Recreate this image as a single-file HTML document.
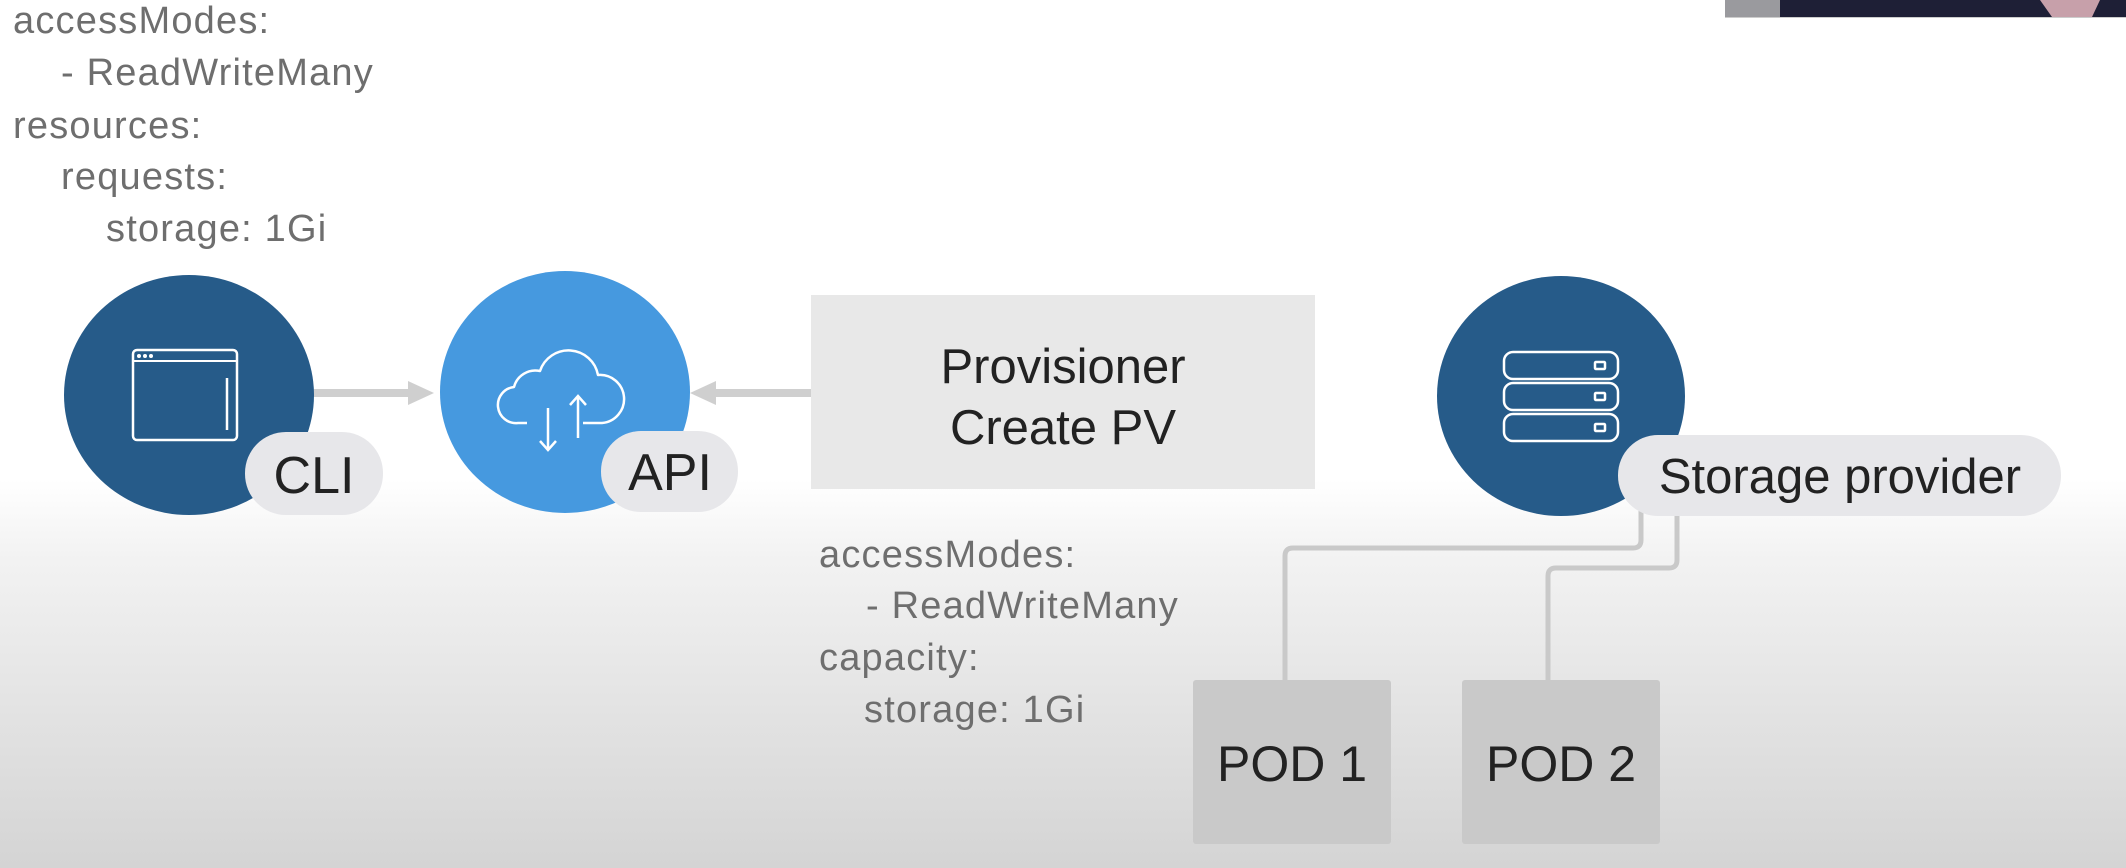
<!DOCTYPE html>
<html><head><meta charset="utf-8"><style>
html,body{margin:0;padding:0}
body{width:2126px;height:868px;overflow:hidden;background:linear-gradient(to bottom,#fff 0,#fff 480px,#f2f2f2 560px,#e2e2e2 720px,#d4d4d4 868px);font-family:"Liberation Sans",sans-serif;position:relative}
svg{position:absolute;left:0;top:0}
</style></head><body>
<svg width="2126" height="868" viewBox="0 0 2126 868" font-family="Liberation Sans, sans-serif">
<!-- webcam strip -->
<rect x="1725" y="0" width="401" height="17" fill="#1e1f36"/>
<rect x="1725" y="0" width="55" height="17" fill="#9a9a9e"/>
<polygon points="2040,0 2100,0 2092,17 2052,17" fill="#c7a0aa"/>
<line x1="1725" y1="17.5" x2="2126" y2="17.5" stroke="#ccc" stroke-width="1"/>

<!-- top-left yaml -->
<g fill="#6e6e6e" font-size="38" letter-spacing="1.2">
<text x="13" y="33">accessModes:</text>
<text x="61" y="85">- ReadWriteMany</text>
<text x="13" y="138">resources:</text>
<text x="61" y="189">requests:</text>
<text x="106" y="241">storage: 1Gi</text>
</g>

<!-- arrows -->
<rect x="312" y="389" width="100" height="8" fill="#cfcfcf"/>
<polygon points="408,381 434,393 408,405" fill="#cfcfcf"/>
<rect x="712" y="389" width="100" height="8" fill="#cfcfcf"/>
<polygon points="716,381 690,393 716,405" fill="#cfcfcf"/>

<!-- CLI -->
<ellipse cx="189" cy="395" rx="125" ry="120" fill="#265b89"/>
<rect x="133" y="350" width="104" height="90" rx="4" fill="none" stroke="#fff" stroke-width="2.5"/>
<line x1="133" y1="361" x2="237" y2="361" stroke="#fff" stroke-width="2"/>
<circle cx="139" cy="356" r="2" fill="#fff"/><circle cx="145" cy="356" r="2" fill="#fff"/><circle cx="151" cy="356" r="2" fill="#fff"/>
<line x1="227" y1="378" x2="227" y2="430" stroke="#fff" stroke-width="2.5"/>
<rect x="245" y="432" width="138" height="83" rx="41" fill="#e7e7ea"/>
<text x="314" y="493" font-size="52" fill="#222" text-anchor="middle">CLI</text>

<!-- API -->
<ellipse cx="565" cy="392" rx="125" ry="121" fill="#4699df"/>
<path d="M527,423 H518 a18,18 0 0 1 -4,-36 a22,22 0 0 1 26,-16 a30,30 0 0 1 58,4 a22,22 0 0 1 4,48 H583" fill="none" stroke="#fff" stroke-width="2.5" stroke-linejoin="round"/>
<line x1="548" y1="408" x2="548" y2="450" stroke="#fff" stroke-width="2.5"/>
<polyline points="540,441 548,450 556,441" fill="none" stroke="#fff" stroke-width="2.5"/>
<line x1="578" y1="396" x2="578" y2="438" stroke="#fff" stroke-width="2.5"/>
<polyline points="570,405 578,396 586,405" fill="none" stroke="#fff" stroke-width="2.5"/>
<rect x="601" y="431" width="137" height="81" rx="40" fill="#e7e7ea"/>
<text x="670" y="490" font-size="52" fill="#222" text-anchor="middle">API</text>

<!-- Provisioner -->
<rect x="811" y="295" width="504" height="194" fill="#e8e8e8"/>
<g font-size="49" fill="#222" text-anchor="middle">
<text x="1063" y="383">Provisioner</text>
<text x="1063" y="444">Create PV</text>
</g>

<!-- bottom yaml -->
<g fill="#6e6e6e" font-size="38" letter-spacing="1.2">
<text x="819" y="567">accessModes:</text>
<text x="866" y="618">- ReadWriteMany</text>
<text x="819" y="670">capacity:</text>
<text x="864" y="722">storage: 1Gi</text>
</g>

<!-- connectors -->
<path d="M1641,510 V540 q0,8 -8,8 H1293 q-8,0 -8,8 V680" fill="none" stroke="#c9c9c9" stroke-width="5"/>
<path d="M1677,510 V560 q0,8 -8,8 H1556 q-8,0 -8,8 V680" fill="none" stroke="#c9c9c9" stroke-width="5"/>

<!-- storage -->
<ellipse cx="1561" cy="396" rx="124" ry="120" fill="#265b89"/>
<g fill="none" stroke="#fff" stroke-width="2.5">
<rect x="1504" y="352" width="114" height="27" rx="9"/>
<rect x="1504" y="383" width="114" height="27" rx="9"/>
<rect x="1504" y="414" width="114" height="27" rx="9"/>
<rect x="1595" y="362" width="10" height="7" rx="1"/>
<rect x="1595" y="393" width="10" height="7" rx="1"/>
<rect x="1595" y="424" width="10" height="7" rx="1"/>
</g>
<rect x="1618" y="435" width="443" height="81" rx="40" fill="#e7e7ea"/>
<text x="1840" y="493" font-size="49" fill="#222" text-anchor="middle">Storage provider</text>

<!-- pods -->
<rect x="1193" y="680" width="198" height="164" rx="3" fill="#c9c9c9"/>
<rect x="1462" y="680" width="198" height="164" rx="3" fill="#c9c9c9"/>
<g font-size="50" fill="#222" text-anchor="middle">
<text x="1292" y="781">POD 1</text>
<text x="1561" y="781">POD 2</text>
</g>
</svg>
</body></html>
